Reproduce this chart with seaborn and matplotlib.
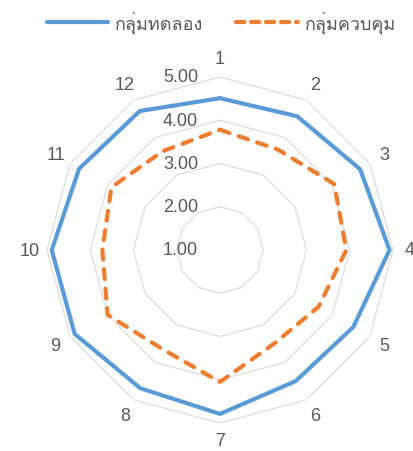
import numpy as np
import pandas as pd
import matplotlib
matplotlib.use("Agg")
import matplotlib.pyplot as plt
from matplotlib import font_manager
import seaborn as sns

# values
items = ["1", "2", "3", "4", "5", "6", "7", "8", "9", "10", "11", "12"]
experimental = [4.51, 4.57, 4.74, 4.92, 4.56, 4.50, 4.79, 4.69, 4.88, 4.89, 4.76, 4.71]
control = [3.78, 3.68, 4.05, 3.92, 3.63, 3.50, 4.05, 3.65, 4.00, 3.72, 3.90, 3.64]
series_names = ["กลุ่มทดลอง", "กลุ่มควบคุม"]
ring_values = [1, 2, 3, 4, 5]

BLUE = "#5B9BD5"
ORANGE = "#ED7D31"
GRID = "#D9D9D9"
TEXT = "#595959"

sns.set_style("white")

# find something installed that can draw Thai
thai_family = None
for f in font_manager.fontManager.ttflist:
    try:
        from fontTools.ttLib import TTFont
        cmap = TTFont(f.fname, fontNumber=0, lazy=True).getBestCmap()
        if cmap and 0x0E01 in cmap and 0x0E48 in cmap:
            thai_family = f.name
            break
    except Exception:
        continue
families = ["Liberation Sans", "DejaVu Sans"]
if thai_family:
    families.insert(1, thai_family)
plt.rcParams["font.family"] = families

n = len(items)
angles = np.arange(n) * 2 * np.pi / n
theta = np.append(angles, angles[0])

df = pd.concat([
    pd.DataFrame({"theta": theta, "value": experimental + experimental[:1],
                  "group": series_names[0]}),
    pd.DataFrame({"theta": theta, "value": control + control[:1],
                  "group": series_names[1]}),
])

# plot centre ~ (220, 251) px, outer ring radius ~ 173 px
fig = plt.figure(figsize=(4.14, 4.52), dpi=100)
ax = fig.add_axes([47 / 414, 28 / 452, 346 / 414, 346 / 452], projection="polar")
ax.set_theta_zero_location("N")
ax.set_theta_direction(-1)
ax.set_ylim(ring_values[0], ring_values[-1])

# excel-style polygon rings, no spokes
for v in ring_values[1:]:
    ax.plot(theta, [v] * len(theta), color=GRID, lw=0.8, zorder=1)

sns.lineplot(data=df[df.group == series_names[0]], x="theta", y="value", sort=False,
             estimator=None, color=BLUE, lw=3, ax=ax, zorder=3)
sns.lineplot(data=df[df.group == series_names[1]], x="theta", y="value", sort=False,
             estimator=None, color=ORANGE, lw=3, ax=ax, zorder=3)
ax.lines[-1].set_dashes([2.4, 2.3])
ax.lines[-1].set_dash_capstyle("round")

ax.grid(False)
ax.spines["polar"].set_visible(False)
ax.set_xticks([])
ax.set_yticks([])
ax.set_xlabel("")
ax.set_ylabel("")

for v in ring_values:
    ax.annotate(f"{v:.2f}", xy=(0, v), xytext=(-22, 0), textcoords="offset pixels",
                ha="right", va="center", fontsize=13, color=TEXT)

for a, lab in zip(angles, items):
    ax.annotate(lab, xy=(a, ring_values[-1]),
                xytext=(17 * np.sin(a), 18 * np.cos(a)), textcoords="offset pixels",
                ha="center", va="center", fontsize=13, color=TEXT, annotation_clip=False)

handles = [
    plt.Line2D([], [], color=BLUE, lw=3),
    plt.Line2D([], [], color=ORANGE, lw=3, dashes=[2.0, 1.6], dash_capstyle="round"),
]
leg = fig.legend(handles, series_names, loc="upper center", bbox_to_anchor=(0.535, 1.012),
                 ncol=2, frameon=False, fontsize=13, handlelength=3.4,
                 handletextpad=0.4, columnspacing=1.8)
for t in leg.get_texts():
    t.set_color(TEXT)

fig.savefig("out.png", dpi=100)
